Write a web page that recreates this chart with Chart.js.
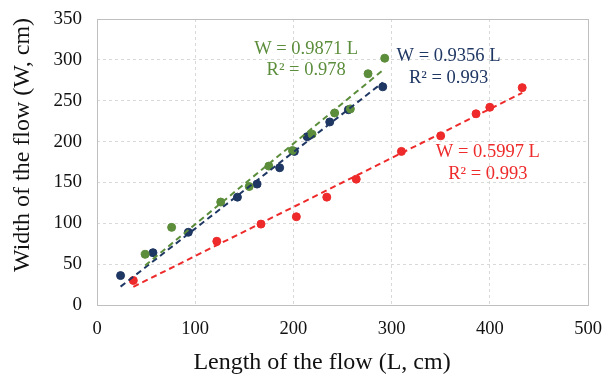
<!DOCTYPE html>
<html><head><meta charset="utf-8">
<script src="https://cdn.jsdelivr.net/npm/chart.js@4.4.1/dist/chart.umd.min.js"></script>
<style>html,body{margin:0;padding:0;background:#fff}#wrap{width:603px;height:383px}</style>
</head><body><div id="wrap"><canvas id="c" width="603" height="383"></canvas></div>
<script>
// Data (L, W in cm)
const greenL = [49, 76, 126, 155, 175, 199, 219, 242, 258, 276, 293];
const greenW = [62, 95, 126, 145, 170, 189, 209, 235, 240, 283, 302];
const navyL  = [24, 57, 93, 143, 163, 186, 201, 214, 237, 256, 291];
const navyW  = [36, 64, 89, 132, 148, 168, 188, 206, 224, 239, 267];
const redL   = [37, 122, 167, 203, 234, 264, 310, 350, 386, 400, 433];
const redW   = [30, 78, 99, 108, 132, 154, 188, 207, 234, 242, 266];
const slopes = {green: 0.9871, navy: 0.9356, red: 0.5997};
const r2 = {green: '0.978', navy: '0.993', red: '0.993'};
const xTicks = [0, 100, 200, 300, 400, 500];
const yTicks = [0, 50, 100, 150, 200, 250, 300, 350];
const xTitle = 'Length of the flow (L, cm)';
const yTitle = 'Width of the flow (W, cm)';

const C = {green: '#5b8d3b', navy: '#1f3763', red: '#ee2a2a'};
const SERIF = '"Liberation Serif", "Times New Roman", serif';
const pts = (xs, ys) => xs.map((x, i) => ({x, y: ys[i]}));
const trend = (xs, k) => [{x: Math.min(...xs), y: k * Math.min(...xs)}, {x: Math.max(...xs), y: k * Math.max(...xs)}];

const labels = [
  {c: C.green, L: 213, W1: 313, W2: 287, t1: 'W = ' + slopes.green + ' L', t2: 'R² = ' + r2.green},
  {c: C.navy,  L: 358, W1: 305, W2: 278, t1: 'W = ' + slopes.navy + ' L', t2: 'R² = ' + r2.navy},
  {c: C.red,   L: 398, W1: 187, W2: 160, t1: 'W = ' + slopes.red + ' L', t2: 'R² = ' + r2.red}
];
const labelPlugin = {
  id: 'eqLabels',
  afterDatasetsDraw(chart) {
    const ctx = chart.ctx, xs = chart.scales.x, ys = chart.scales.y;
    ctx.save();
    ctx.font = '18.5px ' + SERIF;
    ctx.textAlign = 'center'; ctx.textBaseline = 'middle';
    labels.forEach(l => {
      ctx.fillStyle = l.c;
      ctx.fillText(l.t1, xs.getPixelForValue(l.L), ys.getPixelForValue(l.W1));
      ctx.fillText(l.t2, xs.getPixelForValue(l.L), ys.getPixelForValue(l.W2));
    });
    ctx.restore();
  }
};

const mk = (name, xs, ys) => ([
  {type: 'scatter', data: pts(xs, ys), backgroundColor: C[name], borderColor: C[name], pointRadius: 4, pointHoverRadius: 4, order: 2},
  {type: 'line', data: trend(xs, slopes[name]), borderColor: C[name], borderWidth: 2, borderDash: [6, 4], pointRadius: 0, fill: false, order: 1}
]);

new Chart(document.getElementById('c'), {
  data: {datasets: [...mk('green', greenL, greenW), ...mk('navy', navyL, navyW), ...mk('red', redL, redW)]},
  options: {
    responsive: false, animation: false,
    plugins: {legend: {display: false}, tooltip: {enabled: false}},
    layout: {padding: {left: 0, top: 19, right: 15, bottom: 0}},
    scales: {
      x: {
        type: 'linear', min: 0, max: 500,
        afterBuildTicks: s => { s.ticks = xTicks.map(v => ({value: v})); },
        afterFit: s => { s.height = 78; s.paddingLeft = 0; s.paddingRight = 0; },
        grid: {color: '#d9d9d9', drawTicks: false},
        border: {display: false, dash: [3, 3]},
        ticks: {color: '#111', font: {family: SERIF, size: 18.5}, padding: 13}
      },
      y: {
        type: 'linear', min: 0, max: 350,
        afterBuildTicks: s => { s.ticks = yTicks.map(v => ({value: v})); },
        afterFit: s => { s.width = 97; s.paddingTop = 0; s.paddingBottom = 0; },
        grid: {color: '#d9d9d9', drawTicks: false},
        border: {display: false, dash: [3, 3]},
        ticks: {color: '#111', font: {family: SERIF, size: 19}, padding: 15}
      }
    }
  },
  plugins: [labelPlugin, {
    id: 'frame',
    beforeDraw(chart) {
      const ctx = chart.ctx;
      ctx.save(); ctx.fillStyle = '#fff'; ctx.fillRect(0, 0, chart.width, chart.height); ctx.restore();
    },
    afterDraw(chart) {
      const ctx = chart.ctx, a = chart.chartArea;
      ctx.save();
      ctx.strokeStyle = '#bfbfbf'; ctx.lineWidth = 1;
      ctx.strokeRect(Math.round(a.left) + 0.5, Math.round(a.top) + 0.5, Math.round(a.right - a.left), Math.round(a.bottom - a.top));
      ctx.fillStyle = '#111';
      ctx.font = '24px ' + SERIF;
      ctx.textAlign = 'center'; ctx.textBaseline = 'middle';
      ctx.fillText(xTitle, 322, 363);
      ctx.translate(23, 145); ctx.rotate(-Math.PI / 2);
      ctx.fillText(yTitle, 0, 0);
      ctx.restore();
    }
  }]
});
</script></body></html>
